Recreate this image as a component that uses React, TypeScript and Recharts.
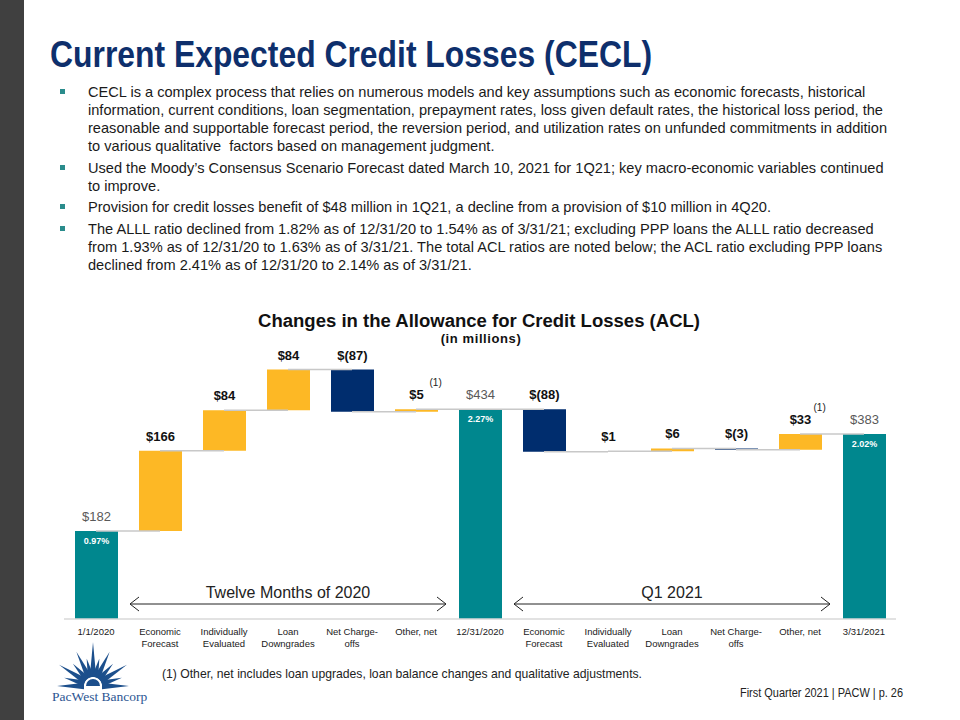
import React from "react";
import {
  BarChart,
  Bar,
  XAxis,
  YAxis,
  Cell,
  LabelList,
  ReferenceLine,
  ReferenceArea,
} from "recharts";

// ACL walk, in $ millions
const categories = [
  "1/1/2020",
  "Economic\nForecast",
  "Individually\nEvaluated",
  "Loan\nDowngrades",
  "Net Charge-\noffs",
  "Other, net",
  "12/31/2020",
  "Economic\nForecast",
  "Individually\nEvaluated",
  "Loan\nDowngrades",
  "Net Charge-\noffs",
  "Other, net",
  "3/31/2021",
];
const changes = [182, 166, 84, 84, -87, 5, 434, -88, 1, 6, -3, 33, 383];
const isTotal = [true, false, false, false, false, false, true, false, false, false, false, false, true];
const ratioLabels = ["0.97%", "", "", "", "", "", "2.27%", "", "", "", "", "", "2.02%"];
const noteMarks = ["", "", "", "", "", "(1)", "", "", "", "", "", "(1)", ""];
const periods = [
  { label: "Twelve Months of 2020", from: "c1", to: "c5" },
  { label: "Q1 2021", from: "c7", to: "c11" },
];

const bullets = [
  [
    "CECL is a complex process that relies on numerous models and key assumptions such as economic forecasts, historical",
    "information, current conditions, loan segmentation, prepayment rates, loss given default rates, the historical loss period, the",
    "reasonable and supportable forecast period, the reversion period, and utilization rates on unfunded commitments in addition",
    "to various qualitative  factors based on management judgment.",
  ],
  [
    "Used the Moody\u2019s Consensus Scenario Forecast dated March 10, 2021 for 1Q21; key macro-economic variables continued",
    "to improve.",
  ],
  ["Provision for credit losses benefit of $48 million in 1Q21, a decline from a provision of $10 million in 4Q20."],
  [
    "The ALLL ratio declined from 1.82% as of 12/31/20 to 1.54% as of 3/31/21; excluding PPP loans the ALLL ratio decreased",
    "from 1.93% as of 12/31/20 to 1.63% as of 3/31/21. The total ACL ratios are noted below; the ACL ratio excluding PPP loans",
    "declined from 2.41% as of 12/31/20 to 2.14% as of 3/31/21.",
  ],
];

const TEAL = "#00878E";
const GOLD = "#FDB825";
const NAVY = "#002D6E";
const SANS = "Arial, 'Liberation Sans', sans-serif";

let level = 0;
const data = categories.map((name, i) => {
  const start = isTotal[i] ? 0 : level;
  const end = isTotal[i] ? changes[i] : level + changes[i];
  level = end;
  return {
    key: `c${i}`,
    name,
    base: Math.min(start, end),
    span: Math.abs(end - start),
    end,
  };
});

const money = (v: number) => (v < 0 ? `$(${-v})` : `$${v}`);

const colorFor = (i: number) => (isTotal[i] ? TEAL : changes[i] < 0 ? NAVY : GOLD);

function ValueLabel(props: any) {
  const { x, y, width, index } = props;
  const cx = x + width / 2;
  const total = isTotal[index];
  return (
    <g>
      <text
        x={cx}
        y={y - 10}
        textAnchor="middle"
        fontFamily={SANS}
        fontSize={13}
        fontWeight={total ? "normal" : "bold"}
        fill={total ? "#595959" : "#111"}
      >
        {money(changes[index])}
      </text>
      {noteMarks[index] ? (
        <text x={cx + 13} y={y - 23} fontFamily={SANS} fontSize={10} fill="#222">
          {noteMarks[index]}
        </text>
      ) : null}
      {ratioLabels[index] ? (
        <text
          x={cx}
          y={y + 13}
          textAnchor="middle"
          fontFamily={SANS}
          fontSize={9}
          fontWeight="bold"
          fill="#fff"
        >
          {ratioLabels[index]}
        </text>
      ) : null}
    </g>
  );
}

function CategoryTick(props: any) {
  const { x, y, payload } = props;
  const lines = categories[payload.index].split("\n");
  return (
    <text x={x} y={y + 16} textAnchor="middle" fontFamily={SANS} fontSize={9.5} fill="#1a1a1a">
      {lines.map((l, k) => (
        <tspan key={k} x={x} dy={k === 0 ? 0 : 12}>
          {l}
        </tspan>
      ))}
    </text>
  );
}

function PeriodArrow(label: string) {
  return (props: any) => {
    const { x, y, width, height } = props;
    const bottom = y + height;
    const ay = bottom - 15;
    const x2 = x + width;
    return (
      <g>
        <text x={x + width / 2} y={bottom - 21} textAnchor="middle" fontFamily={SANS} fontSize={16} fill="#222">
          {label}
        </text>
        <line x1={x + 2} y1={ay} x2={x2 - 2} y2={ay} stroke="#222" strokeWidth={1} />
        <polyline points={`${x + 11},${ay - 7} ${x + 2},${ay} ${x + 11},${ay + 7}`} fill="none" stroke="#222" strokeWidth={1} />
        <polyline points={`${x2 - 11},${ay - 7} ${x2 - 2},${ay} ${x2 - 11},${ay + 7}`} fill="none" stroke="#222" strokeWidth={1} />
      </g>
    );
  };
}

function Logo() {
  const cx = 93;
  const cy = 686;
  const rays = [
    { a: 180, l: 36 },
    { a: 196, l: 30 },
    { a: 212, l: 40 },
    { a: 228, l: 30 },
    { a: 244, l: 38 },
    { a: 257, l: 28 },
    { a: 270, l: 44 },
    { a: 283, l: 28 },
    { a: 296, l: 38 },
    { a: 312, l: 30 },
    { a: 328, l: 40 },
    { a: 344, l: 30 },
    { a: 360, l: 36 },
  ];
  return (
    <g fill="#1c4f8c">
      {rays.map((r, i) => {
        const rad = (r.a * Math.PI) / 180;
        const perp = rad + Math.PI / 2;
        const r0 = 9;
        const w = 3.2;
        const bx = cx + Math.cos(rad) * r0;
        const by = cy + Math.sin(rad) * r0;
        const tx = cx + Math.cos(rad) * r.l;
        const ty = cy + Math.sin(rad) * r.l;
        return (
          <polygon
            key={i}
            points={`${bx + Math.cos(perp) * w},${by + Math.sin(perp) * w} ${tx},${ty} ${bx - Math.cos(perp) * w},${by - Math.sin(perp) * w}`}
          />
        );
      })}
      <path d={`M ${cx - 7} ${cy} A 7 7 0 0 1 ${cx + 7} ${cy} Z`} />
      <text x={52} y={701} fontFamily="'Liberation Serif', 'Times New Roman', serif" fontSize={13.5} fill="#2c5592">
        PacWest Bancorp
      </text>
    </g>
  );
}

function Slide() {
  const gaps = [0, 4, 3, 4];
  let yCursor = 97;
  return (
    <svg width={960} height={720} style={{ position: "absolute", left: 0, top: 0 }}>
      <rect x={0} y={0} width={960} height={720} fill="#fff" />
      <rect x={0} y={0} width={24} height={720} fill="#404040" />
      <text
        x={50}
        y={67}
        fontFamily={SANS}
        fontWeight="bold"
        fontSize={36}
        fill="#0E2F6C"
        textLength={602}
        lengthAdjust="spacingAndGlyphs"
      >
        Current Expected Credit Losses (CECL)
      </text>
      {bullets.map((para, p) => {
        yCursor += gaps[p];
        const top = yCursor;
        const els = para.map((line, k) => (
          <text key={k} x={88} y={top + k * 18} fontFamily={SANS} fontSize={14.6} fill="#1a1a1a" style={{ whiteSpace: "pre" }}>
            {line}
          </text>
        ));
        yCursor = top + para.length * 18;
        return (
          <g key={p}>
            <rect x={60} y={top - 8} width={5} height={5} fill="#2A8C8C" />
            {els}
          </g>
        );
      })}
      <text
        x={479}
        y={327}
        textAnchor="middle"
        fontFamily={SANS}
        fontWeight="bold"
        fontSize={18}
        fill="#111"
        textLength={442}
        lengthAdjust="spacingAndGlyphs"
      >
        Changes in the Allowance for Credit Losses (ACL)
      </text>
      <text x={481} y={343} textAnchor="middle" fontFamily={SANS} fontWeight="bold" fontSize={13} letterSpacing={0.6} fill="#111">
        (in millions)
      </text>
      <text
        x={162}
        y={678}
        fontFamily={SANS}
        fontSize={13}
        fill="#222"
        textLength={480}
        lengthAdjust="spacingAndGlyphs"
      >
        (1) Other, net includes loan upgrades, loan balance changes and qualitative adjustments.
      </text>
      <text
        x={740}
        y={697}
        fontFamily={SANS}
        fontSize={12}
        fill="#222"
        textLength={163}
        lengthAdjust="spacingAndGlyphs"
      >
        First Quarter 2021 | PACW | p. 26
      </text>
      <Logo />
    </svg>
  );
}

export default function App() {
  return (
    <div style={{ position: "absolute", left: 0, top: 0, width: 960, height: 720, overflow: "hidden", background: "#fff" }}>
      <Slide />
      <div style={{ position: "absolute", left: 0, top: 300 }}>
        <BarChart
          width={960}
          height={360}
          data={data}
          margin={{ top: 29, right: 64, bottom: 0, left: 64 }}
          barSize={43}
        >
          <XAxis
            dataKey="key"
            height={41}
            tickLine={false}
            tickSize={0}
            tickMargin={0}
            axisLine={{ stroke: "#d9d9d9", strokeWidth: 1.5 }}
            tick={<CategoryTick />}
            interval={0}
          />
          <YAxis hide domain={[0, 600]} />
          <Bar dataKey="base" stackId="w" fill="transparent" isAnimationActive={false} />
          <Bar dataKey="span" stackId="w" isAnimationActive={false}>
            {data.map((d, i) => (
              <Cell key={d.key} fill={colorFor(i)} />
            ))}
            <LabelList dataKey="span" content={<ValueLabel />} />
          </Bar>
          {data.slice(0, -1).map((d, i) => (
            <ReferenceLine
              key={`link-${i}`}
              segment={[
                { x: d.key, y: d.end },
                { x: data[i + 1].key, y: d.end },
              ]}
              stroke="#c8c8c8"
              strokeWidth={1.5}
            />
          ))}
          {periods.map((p) => (
            <ReferenceArea
              key={p.label}
              x1={p.from}
              x2={p.to}
              y1={0}
              y2={80}
              fill="none"
              shape={PeriodArrow(p.label)}
            />
          ))}
        </BarChart>
      </div>
    </div>
  );
}
